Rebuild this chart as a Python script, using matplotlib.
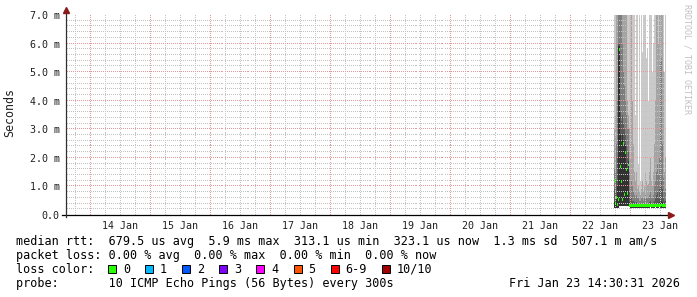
import numpy as np
import matplotlib.pyplot as plt
import matplotlib.dates as mdates
from matplotlib.patches import Rectangle

# smoke columns, one per 24 min, starting 22 Jan 17:42 (values in ms)
first_col = np.datetime64('2026-01-22T17:42')
col_step = np.timedelta64(24, 'm')

median = [1.2, .42, .6, .38, .55, 5.8, 1.7, 1.17, .53, 2.5, .72, 2.2, 1.6, .75, 1.75,
          .34, .33, .33, .33, .33, .32, .32, .33, .32, .32, .32, .32, .33, .32, .32, .33,
          .33, .32, .32, .33, .33, .33, .32, .32, .33, .33, .33, .34, .33, .33, .34, .33,
          .35, .34, .33, .33, .34]
ping_min = [.25, .25, .25, .25, .25, .3, .3, .3, .3, .3, .3, .3, .3, .3, .3,
            .27, .26, .26, .26, .26, .26, .26, .26, .26, .25, .26, .26, .26, .26, .25, .26,
            .26, .26, .26, .26, .26, .27, .26, .26, .26, .26, .27, .26, .26, .26, .27, .26,
            .26, .26, .26, .26, .26]
# upper edge of each smoke band, outermost (max ping) first
band1 = [8, 8, 8, 8, 8, 8, 8, 8, 8, 8, 8, 8, 8, 8, 8,
         8, 8, 8, 8, 8, 8, 3.5, 8, 8, 1.8, 8, 1.2, 7.5, 5.7, 8, 8,
         8, 5.5, 5.8, 4.0, 8, 8, 8, 5.0, 6.0, 8, 8, 8, 8, 8, 8, 8,
         8, 8, 8, 5.0, 8]
band2 = [3.0, 3.5, 8, 8, 8, 8, 8, 8, 8, 8, 8, 8, 8, 4.0, 3.5,
         3.0, 2.0, 8, 4.0, 2.5, 1.5, 1.2, 1.5, .9, 1.0, .8, .7, .9, 1.2, .8, 1.0,
         1.5, 1.2, 1.0, 1.1, 1.5, 2.0, 1.2, 1.0, 1.5, 2.5, 4.0, 8, 8, 6.0, 8, 8,
         8, 8, 5.0, 1.5, 2.0]
band3 = [1.6, 1.5, 2.5, 4.0, 8, 8, 8, 8, 6.0, 5.0, 4.5, 4.0, 3.5, 3.0, 3.0,
         1.5, 1.0, 1.2, 1.0, .8, .7, .6, .7, .6, .6, .5, .5, .6, .6, .5, .6,
         .7, .6, .6, .6, .7, .8, .6, .6, .7, 1.0, 1.2, 1.5, 1.8, 1.4, 2.0, 5.4,
         5.5, 2.5, 1.3, .8, .9]
band4 = [.9, .8, 1.2, 2.0, 6.0, 6.0, 3.6, 3.3, 3.5, 3.2, 3.0, 2.8, 2.4, 2.0, 2.2,
         .8, .6, .6, .5, .5, .45, .4, .45, .4, .4, .38, .38, .4, .4, .38, .4,
         .45, .4, .4, .4, .45, .5, .4, .4, .45, .5, .6, .7, .8, .6, .9, 1.0,
         1.2, .9, .6, .5, .5]
band5 = [.45, .4, .6, 1.0, 5.9, 5.9, 2.8, 2.6, 2.8, 2.6, 2.5, 2.4, 1.8, 1.6, 1.9,
         .45, .4, .4, .38, .36, .36, .35, .36, .35, .35, .35, .35, .35, .35, .35, .35,
         .36, .35, .35, .35, .36, .37, .36, .35, .36, .37, .4, .4, .42, .4, .45, .45,
         .5, .45, .4, .37, .37]
band_colors = ['#cacaca', '#a4a4a4', '#7e7e7e', '#585858', '#323232']

y_ticks = [0, 1, 2, 3, 4, 5, 6, 7]
day_labels = ['14 Jan', '15 Jan', '16 Jan', '17 Jan', '18 Jan',
              '19 Jan', '20 Jan', '21 Jan', '22 Jan', '23 Jan']
loss_labels = ['0', '1', '2', '3', '4', '5', '6-9', '10/10']
loss_colors = ['#26ff00', '#00b8ff', '#0059ff', '#7e00ff', '#ff00ff', '#ff5500', '#ff0000', '#a10000']

W, H = 697, 297
PW, PH = 600, 200
MONO = 'DejaVu Sans Mono'

fig = plt.figure(figsize=(W / 100, H / 100), dpi=100)
fig.patch.set_facecolor('white')
ax = fig.add_axes([66 / W, (H - 215) / H, PW / W, PH / H])

start = np.datetime64('2026-01-13T14:30')
end = np.datetime64('2026-01-23T14:30')
x0, x1 = mdates.date2num(start), mdates.date2num(end)

t = mdates.date2num(first_col + np.arange(len(median)) * col_step)
colw = 1 / 60
lo = np.array(ping_min)
for top, c in zip([band1, band2, band3, band4, band5], band_colors):
    top = np.array(top, dtype=float)
    ax.bar(t, top - lo, bottom=lo, width=colw, align='edge', color=c,
           linewidth=0, antialiased=False, zorder=1)
med = np.array(median)
ax.bar(t, 0.1, bottom=med - 0.05, width=colw, align='edge', color=loss_colors[0],
       linewidth=0, antialiased=False, zorder=4)

ax.set_xlim(x0, x1)
ax.set_ylim(0, 7.0)

# dotted grid drawn as single pixels, every other pixel
MAJ, MIN = '#e29a9a', '#c4c4c4'
dot_x = (np.arange(0, PW, 2) + 0.5) / PW
dot_y = (np.arange(0, PH, 2) + 0.5) / PH
for h in np.arange(np.datetime64('2026-01-13T18'), end, np.timedelta64(6, 'h')):
    fx = (mdates.date2num(h) - x0) / (x1 - x0)
    hour = int((h - np.datetime64('2026-01-13T00')) / np.timedelta64(1, 'h')) % 24
    ax.plot(np.full_like(dot_y, fx), dot_y, ls='none', marker=',',
            color=MAJ if hour == 0 else MIN, transform=ax.transAxes, zorder=3)
for v in np.arange(0.2, 7.01, 0.2):
    is_major = abs(v - round(v)) < 1e-6
    ax.plot(dot_x, np.full_like(dot_x, v / 7.0), ls='none', marker=',',
            color=MAJ if is_major else MIN, transform=ax.transAxes, zorder=3)

for s in ax.spines.values():
    s.set_visible(False)

noon = [mdates.date2num(np.datetime64('2026-01-14T12') + np.timedelta64(i, 'D'))
        for i in range(len(day_labels))]
ax.set_xticks(noon)
ax.set_xticklabels(day_labels, fontfamily=MONO, fontsize=7.2)
ax.set_yticks(y_ticks)
ax.set_yticklabels(['0.0'] + ['%.1f m' % v for v in y_ticks[1:]], fontfamily=MONO, fontsize=7.2)
ax.tick_params(axis='both', length=0, colors='#202020')
ax.tick_params(axis='x', pad=4.5)
ax.tick_params(axis='y', pad=4.5)

# axes with arrows
ax.plot([-4 / PW, 1 + 3 / PW], [0, 0], transform=ax.transAxes, color='black',
        lw=0.9, clip_on=False, zorder=5)
ax.plot([0, 0], [-2 / PH, 1 + 3 / PH], transform=ax.transAxes, color='#303030',
        lw=0.9, clip_on=False, zorder=5)
ax.plot([1 + 5 / PW], [0], transform=ax.transAxes, marker='>', ms=4.2,
        color='#8b1a1a', clip_on=False, zorder=6)
ax.plot([0], [1 + 5 / PH], transform=ax.transAxes, marker='^', ms=4.2,
        color='#8b1a1a', clip_on=False, zorder=6)

fig.text(10 / W, 1 - 113 / H, 'Seconds', rotation=90, ha='center', va='center',
         fontfamily=MONO, fontsize=8.4, color='#202020')
fig.text(687 / W, 1 - 4 / H, 'RRDTOOL / TOBI OETIKER', rotation=270, ha='center',
         va='top', fontfamily=MONO, fontsize=6, color='#c0c0c0')

lines = [
    'median rtt:  679.5 us avg  5.9 ms max  313.1 us min  323.1 us now  1.3 ms sd  507.1 m am/s',
    'packet loss: 0.00 % avg  0.00 % max  0.00 % min  0.00 % now',
    'loss color:',
    'probe:       10 ICMP Echo Pings (56 Bytes) every 300s',
]
for i, s in enumerate(lines):
    fig.text(16 / W, 1 - (245 + 14 * i) / H, s, ha='left', va='baseline',
             fontfamily=MONO, fontsize=8.5, color='black')
fig.text(680 / W, 1 - 287 / H, 'Fri Jan 23 14:30:31 2026', ha='right', va='baseline',
         fontfamily=MONO, fontsize=8.5, color='black')

bx = 108
for lab, c in zip(loss_labels, loss_colors):
    fig.add_artist(Rectangle((bx / W, 1 - 273 / H), 8 / W, 8 / H, transform=fig.transFigure,
                             facecolor=c, edgecolor='black', lw=0.7))
    fig.text((bx + 15) / W, 1 - 273 / H, lab, ha='left', va='baseline',
             fontfamily=MONO, fontsize=8.5, color='black')
    bx += 15 + 7.1 * len(lab) + 15

fig.savefig('out.png', dpi=100)
